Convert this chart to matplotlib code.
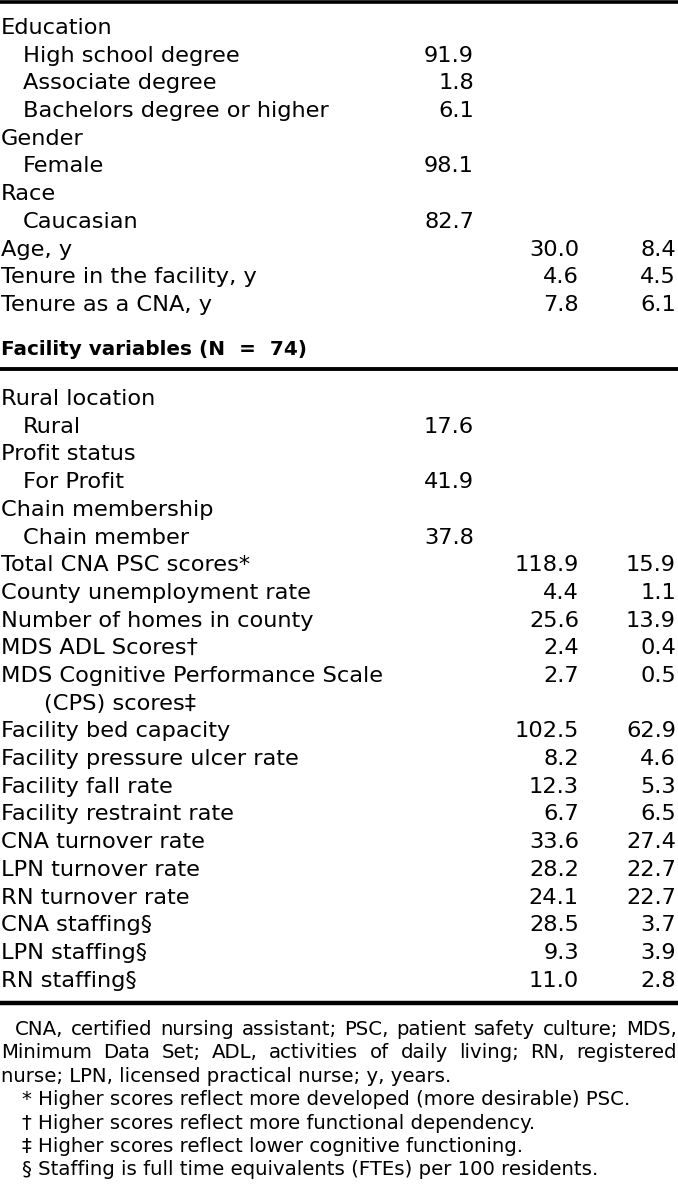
import matplotlib
matplotlib.use('Agg')
import matplotlib.pyplot as plt

plt.rcParams['font.family'] = ['DejaVu Sans']

# CNA (worker) rows
worker_labels = ['Education', 'High school degree', 'Associate degree',
                 'Bachelors degree or higher', 'Gender', 'Female', 'Race',
                 'Caucasian', 'Age, y', 'Tenure in the facility, y',
                 'Tenure as a CNA, y']
worker_indent = [0, 1, 1, 1, 0, 1, 0, 1, 0, 0, 0]
worker_pct = [None, 91.9, 1.8, 6.1, None, 98.1, None, 82.7, None, None, None]
worker_mean = [None] * 8 + [30.0, 4.6, 7.8]
worker_sd = [None] * 8 + [8.4, 4.5, 6.1]

facility_header = 'Facility variables (N  =  74)'

# facility rows
fac_labels = ['Rural location', 'Rural', 'Profit status', 'For Profit',
              'Chain membership', 'Chain member', 'Total CNA PSC scores*',
              'County unemployment rate', 'Number of homes in county',
              'MDS ADL Scores\u2020', 'MDS Cognitive Performance Scale',
              '(CPS) scores\u2021', 'Facility bed capacity',
              'Facility pressure ulcer rate', 'Facility fall rate',
              'Facility restraint rate', 'CNA turnover rate',
              'LPN turnover rate', 'RN turnover rate', 'CNA staffing\u00a7',
              'LPN staffing\u00a7', 'RN staffing\u00a7']
fac_indent = [0, 1, 0, 1, 0, 1, 0, 0, 0, 0, 0, 2, 0, 0, 0, 0, 0, 0, 0, 0, 0, 0]
fac_pct = [None, 17.6, None, 41.9, None, 37.8] + [None] * 16
fac_mean = [None] * 6 + [118.9, 4.4, 25.6, 2.4, 2.7, None, 102.5, 8.2, 12.3,
                         6.7, 33.6, 28.2, 24.1, 28.5, 9.3, 11.0]
fac_sd = [None] * 6 + [15.9, 1.1, 13.9, 0.4, 0.5, None, 62.9, 4.6, 5.3,
                       6.5, 27.4, 22.7, 22.7, 3.7, 3.9, 2.8]

footnote_lines = [
    ['CNA,', 'certified', 'nursing', 'assistant;', 'PSC,', 'patient', 'safety', 'culture;', 'MDS,'],
    ['Minimum', 'Data', 'Set;', 'ADL,', 'activities', 'of', 'daily', 'living;', 'RN,', 'registered'],
]
footnote_last = 'nurse; LPN, licensed practical nurse; y, years.'
footnote_marks = ['* Higher scores reflect more developed (more desirable) PSC.',
                  '\u2020 Higher scores reflect more functional dependency.',
                  '\u2021 Higher scores reflect lower cognitive functioning.',
                  '\u00a7 Staffing is full time equivalents (FTEs) per 100 residents.']

W, H = 678, 1188
fig = plt.figure(figsize=(W / 100, H / 100), dpi=100)
ax = fig.add_axes([0, 0, 1, 1])
ax.set_xlim(0, W)
ax.set_ylim(H, 0)
ax.axis('off')

fs = 16.2
row_h = 27.7
x_lab = 1
indent_px = [0, 22, 43]
x_cols = [474, 579, 676]


def fmt(v):
    return '' if v is None else '%.1f' % v


def draw_rows(labels, indent, pct, mean, sd, y0):
    for i, lab in enumerate(labels):
        y = y0 + i * row_h
        ax.text(x_lab + indent_px[indent[i]], y, lab, fontsize=fs, va='baseline', ha='left')
        for x, col in zip(x_cols, (pct, mean, sd)):
            ax.text(x, y, fmt(col[i]), fontsize=fs, va='baseline', ha='right')


draw_rows(worker_labels, worker_indent, worker_pct, worker_mean, worker_sd, 34)
ax.text(x_lab, 355, facility_header, fontsize=14.4, fontweight='bold', va='baseline')
draw_rows(fac_labels, fac_indent, fac_pct, fac_mean, fac_sd, 405)

# rules
for y, lw in [(1.5, 2.6), (369, 2.8), (1003, 3.2)]:
    ax.plot([0, W], [y, y], color='black', lw=lw, solid_capstyle='butt')

# footnotes
ffs = 14.2
fig.canvas.draw()
r = fig.canvas.get_renderer()


def justify(words, y, x0, x1):
    ts = [ax.text(0, y, w, fontsize=ffs, va='baseline') for w in words]
    widths = [t.get_window_extent(r).width for t in ts]
    gap = (x1 - x0 - sum(widths)) / (len(words) - 1)
    x = x0
    for t, w in zip(ts, widths):
        t.set_x(x)
        x += w + gap


fy = 1035
step = 23.4
justify(footnote_lines[0], fy, 15, 677)
justify(footnote_lines[1], fy + step, 1, 677)
ax.text(1, fy + 2 * step, footnote_last, fontsize=ffs, va='baseline')
for i, s in enumerate(footnote_marks):
    ax.text(22, fy + (3 + i) * step, s, fontsize=ffs, va='baseline')

fig.savefig('out.png', dpi=100)
